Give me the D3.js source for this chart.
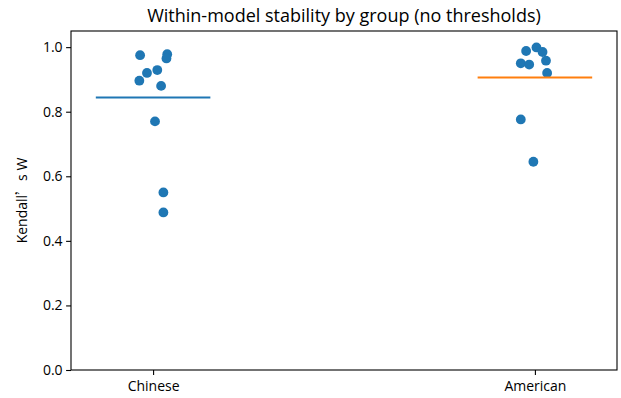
<!DOCTYPE html>
<html><head><meta charset="utf-8">
<script src="https://cdn.jsdelivr.net/npm/d3@7"></script>
<style>body{margin:0;background:#fff}svg{display:block}text{font-family:"Open Sans","Noto Sans",sans-serif;fill:#000}</style>
</head><body><svg id="c" width="621" height="398"></svg>
<script>
const categories = ["Chinese", "American"];
const chineseValues = [0.975, 0.978, 0.965, 0.929, 0.920, 0.896, 0.880, 0.770, 0.550, 0.488];
const chineseJitter = [-0.034, 0.037, 0.035, 0.011, -0.016, -0.036, 0.021, 0.005, 0.027, 0.027];
const americanValues = [0.988, 0.999, 0.985, 0.958, 0.950, 0.946, 0.920, 0.776, 0.645];
const americanJitter = [-0.023, 0.004, 0.020, 0.029, -0.037, -0.015, 0.032, -0.037, -0.004];
const groupMeans = [0.844, 0.906];
const yTicks = [0.0, 0.2, 0.4, 0.6, 0.8, 1.0];
const meanColors = ["#1f77b4", "#ff7f0e"];

const L = 71, R = 617, T = 31, B = 370;
const svg = d3.select("#c");
const x = d3.scaleLinear().domain([-0.215, 1.215]).range([L, R]);
const y = d3.scaleLinear().domain([0, 1.05]).range([B, T]);

svg.append("text").attr("x", (L + R) / 2).attr("y", 22).attr("text-anchor", "middle")
  .style("font-size", "18px").text("Within-model stability by group (no thresholds)");

const yAxis = svg.append("g").attr("transform", `translate(${L},0)`)
  .call(d3.axisLeft(y).tickValues(yTicks).tickFormat(d3.format(".1f")).tickSize(4.9).tickPadding(3.5));
const xAxis = svg.append("g").attr("transform", `translate(0,${B})`)
  .call(d3.axisBottom(x).tickValues([0, 1]).tickFormat((d) => categories[d]).tickSize(4.9).tickPadding(6));
[yAxis, xAxis].forEach(g => {
  g.select(".domain").remove();
  g.selectAll("line").attr("stroke", "#000").attr("stroke-width", 1.1);
  g.selectAll("text").style("font-size", "14px").attr("fill", "#000");
});

svg.append("rect").attr("x", L).attr("y", T).attr("width", R - L).attr("height", B - T)
  .attr("fill", "none").attr("stroke", "#000").attr("stroke-width", 1.1);

const yl = svg.append("text").attr("transform", `translate(27,${(T + B) / 2}) rotate(-90)`)
  .attr("text-anchor", "middle").style("font-size", "14px");
yl.append("tspan").text("Kendall");
yl.append("tspan").style("font-family", '"Noto Sans CJK SC"').text("’");
yl.append("tspan").text("s W");

const groups = [
  { values: chineseValues, jitter: chineseJitter },
  { values: americanValues, jitter: americanJitter }
];
groups.forEach((g, i) => {
  svg.append("g").selectAll("circle").data(g.values).join("circle")
    .attr("cx", (d, k) => x(i + g.jitter[k])).attr("cy", d => y(d))
    .attr("r", 4.9).attr("fill", "#1f77b4");
});
groups.forEach((g, i) => {
  svg.append("line").attr("x1", x(i - 0.15)).attr("x2", x(i + 0.15))
    .attr("y1", y(groupMeans[i])).attr("y2", y(groupMeans[i]))
    .attr("stroke", meanColors[i]).attr("stroke-width", 2.2);
});
</script></body></html>
